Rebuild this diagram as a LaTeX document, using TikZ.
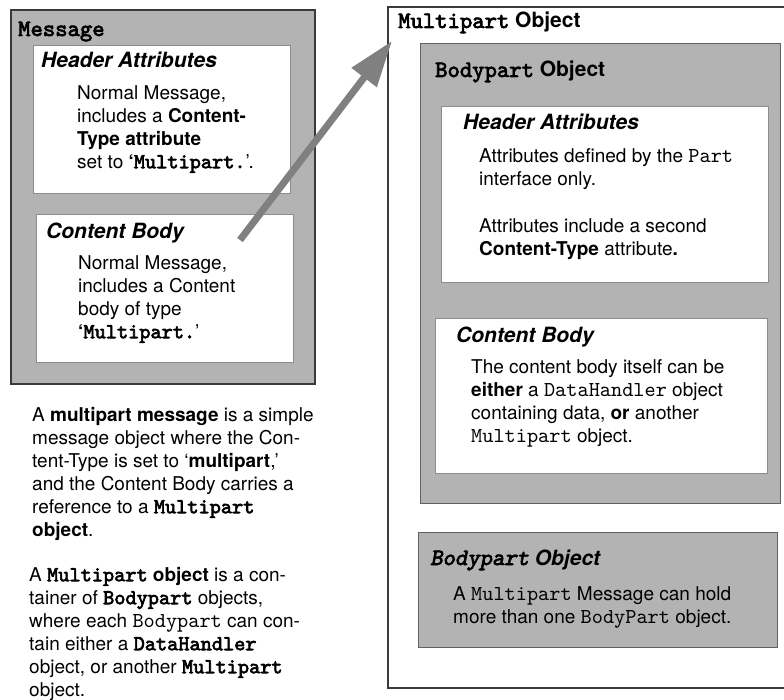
\documentclass[tikz,border=0pt]{standalone}
\usepackage{fontspec}
\setmainfont{TeX Gyre Heros}
\newfontfamily\courfam[Scale=1.12]{lmmono10-regular.otf}
\newfontfamily\courbfam[Scale=1.12, FakeBold=3]{lmmono10-regular.otf}
\newfontfamily\courbifam[Scale=1.12, FakeBold=3, FakeSlant=0.2]{lmmono10-regular.otf}
\usetikzlibrary{arrows.meta}
\newcommand{\mtt}[1]{{\courfam #1}}
\newcommand{\mttb}[1]{{\courbfam #1}}
\newcommand{\fstrut}{\rule{0pt}{15pt}}
\definecolor{boxgray}{HTML}{B3B3B3}
\definecolor{arrowgray}{HTML}{808080}
\definecolor{edgedark}{HTML}{3A3A3A}
\definecolor{edgelight}{HTML}{8C8C8C}
\begin{document}
\begin{tikzpicture}[x=1pt,y=-1pt,
 graybox/.style={draw=edgedark, line width=1.6pt, fill=boxgray, anchor=north west, inner sep=0pt},
 innergray/.style={draw=edgedark!80, line width=1.1pt, fill=boxgray, anchor=north west, inner sep=0pt},
 whitebox/.style={draw=edgelight, line width=1pt, fill=white, anchor=north west, inner sep=0pt},
 outerbox/.style={draw=edgedark, line width=1.6pt, fill=white, anchor=north west, inner sep=0pt},
 head/.style={anchor=base west, inner sep=0pt, font=\fontsize{21}{25}\selectfont\bfseries\itshape},
 title/.style={anchor=base west, inner sep=0pt, font=\fontsize{21}{25}\selectfont\bfseries},
 body/.style={anchor=north west, inner sep=0pt, align=left, font=\fontsize{19}{23}\selectfont},
]
\clip (0,0) rectangle (784,700);
\fill[white] (0,0) rectangle (784,700);

% Message box
\node[graybox, minimum width=304pt, minimum height=374pt] (msg) at (10,9) {};
\node[title] (msgt) at (18,36) {\mttb{Message}};
\node[whitebox, minimum width=257pt, minimum height=148pt] (ha1) at (33,45) {};
\node[head] (ha1t) at (41,68) {Header Attributes};
\node[body] (ha1b) at (77,84) {\fstrut Normal Message,\\ includes a \textbf{Content-}\\ \textbf{Type attribute}\\ set to \textbf{`}\mttb{Multipart.}'.};
\node[whitebox, minimum width=257pt, minimum height=148pt] (cb1) at (36,214) {};
\node[head] (cb1t) at (46,239) {Content Body};
\node[body] (cb1b) at (78,254) {\fstrut Normal Message,\\ includes a Content\\ body of type\\ \textbf{`}\mttb{Multipart.}'};

% Left notes
\node[body] (p1) at (32,406) {\fstrut A \textbf{multipart message} is a simple\\ message object where the Con-\\ tent-Type is set to `\textbf{multipart},'\\ and the Content Body carries a\\ reference to a \mttb{Multipart}\\ \textbf{object}.};
\node[body] (p2) at (29,566) {\fstrut A \mttb{Multipart} \textbf{object} is a con-\\ tainer of \mttb{Bodypart} objects,\\ where each \mtt{Bodypart} can con-\\ tain either a \mttb{DataHandler}\\ object, or another \mttb{Multipart}\\ object.};

% Multipart object box
\node[outerbox, minimum width=410pt, minimum height=681pt] (mp) at (387,6) {};
\node[title] (mpt) at (398,28) {\mttb{Multipart} Object};
\node[innergray, minimum width=360pt, minimum height=460pt] (bp1) at (420,43) {};
\node[title] (bp1t) at (435,77) {\mttb{Bodypart} Object};
\node[whitebox, minimum width=327pt, minimum height=176pt] (ha2) at (441,106) {};
\node[head] (ha2t) at (463,130) {Header Attributes};
\node[body] (ha2b) at (479,147) {\fstrut Attributes defined by the \mtt{Part}\\ interface only.\\[24pt] Attributes include a second\\ \textbf{Content-Type} attribute\textbf{.}};
\node[whitebox, minimum width=332pt, minimum height=155pt] (cb2) at (435,318) {};
\node[head] (cb2t) at (456,342) {Content Body};
\node[body] (cb2b) at (471,358) {\fstrut The content body itself can be\\ \textbf{either} a \mtt{DataHandler} object\\ containing data, \textbf{or} another\\ \mtt{Multipart} object.};
\node[innergray, minimum width=359pt, minimum height=115pt] (bp2) at (418,532) {};
\node[head] (bp2t) at (430,565) {{\courbifam Bodypart} Object};
\node[body] (bp2b) at (453,585) {\fstrut A \mtt{Multipart} Message can hold\\ more than one \mtt{BodyPart} object.};

% Arrow
\coordinate (arrowstart) at (240,240);
\coordinate (arrowtip) at (392,41);
\draw[arrowgray, line width=7pt, -{Triangle[length=46pt,width=30pt]}] (arrowstart) -- (arrowtip);
\end{tikzpicture}
\end{document}
